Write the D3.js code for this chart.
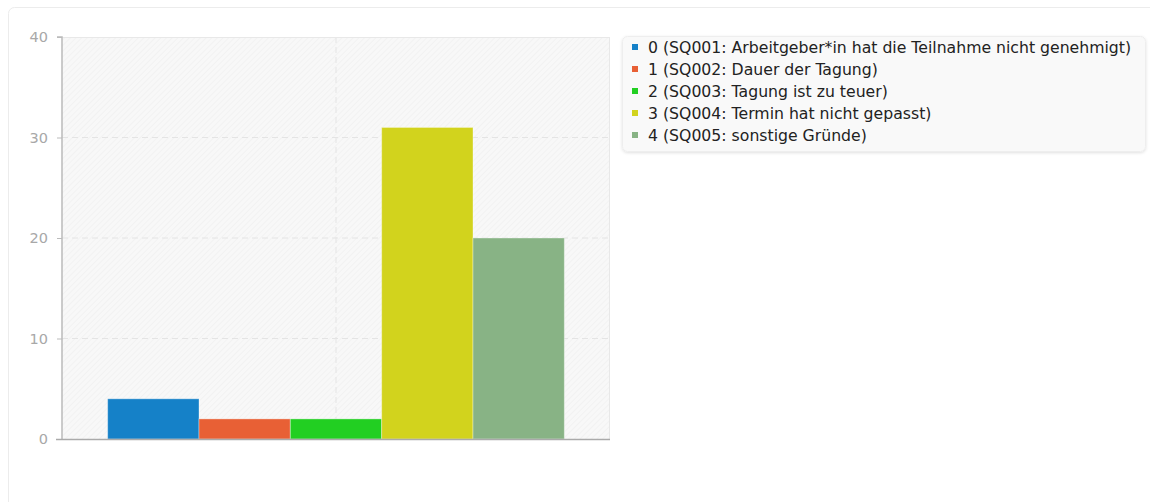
<!DOCTYPE html>
<html><head><meta charset="utf-8">
<script src="https://cdn.jsdelivr.net/npm/d3@7"></script>
<style>
html,body{margin:0;padding:0;background:#fff;}
svg{display:block;font-family:"DejaVu Sans",sans-serif;}
</style></head>
<body>
<svg id="chart" width="1150" height="502"></svg>
<script>
const categories = ["0 (SQ001: Arbeitgeber*in hat die Teilnahme nicht genehmigt)","1 (SQ002: Dauer der Tagung)","2 (SQ003: Tagung ist zu teuer)","3 (SQ004: Termin hat nicht gepasst)","4 (SQ005: sonstige Gründe)"];
const values = [4, 2, 2, 31, 20];
const colors = ["#1581c8", "#e86035", "#22cf22", "#d2d31d", "#88b385"];
const yTicks = [0, 10, 20, 30, 40];

(function(){
const svg = d3.select("#chart");
const defs = svg.append("defs");
const pat = defs.append("pattern").attr("id","hatch").attr("patternUnits","userSpaceOnUse")
  .attr("width",4).attr("height",4).attr("patternTransform","rotate(45)");
pat.append("rect").attr("width",4).attr("height",4).attr("fill","#f8f8f8");
pat.append("line").attr("x1",0).attr("y1",0).attr("x2",0).attr("y2",4).attr("stroke","#efefef").attr("stroke-width",1.2);
const f = defs.append("filter").attr("id","shadow").attr("x","-5%").attr("y","-10%").attr("width","110%").attr("height","130%");
f.append("feDropShadow").attr("dx",0).attr("dy",1).attr("stdDeviation",1.5).attr("flood-color","#000").attr("flood-opacity",0.12);

// card
svg.append("rect").attr("x",8.5).attr("y",7.5).attr("width",1160).attr("height",520).attr("rx",6)
  .attr("fill","#fff").attr("stroke","#ececec");

const pL = 62, pR = 610, pT = 37, pB = 439;
const y = d3.scaleLinear().domain([0,40]).range([pB, pT]);
const xGroup = d3.scaleBand().domain(["g"]).range([pL, pR]).paddingInner(0).paddingOuter(0.1);
const x = d3.scaleBand().domain(d3.range(values.length)).range([xGroup("g"), xGroup("g")+xGroup.bandwidth()]).padding(0);

svg.append("rect").attr("x",pL).attr("y",pT).attr("width",pR-pL).attr("height",pB-pT).attr("fill","url(#hatch)");
// grid
svg.append("g").selectAll("line").data(yTicks.filter(d=>d>0 && d<40)).join("line")
  .attr("x1",pL).attr("x2",pR).attr("y1",d=>y(d)).attr("y2",d=>y(d))
  .attr("stroke","#e4e4e4").attr("stroke-dasharray","6,4");
svg.append("line").attr("x1",(pL+pR)/2).attr("x2",(pL+pR)/2).attr("y1",pT).attr("y2",pB)
  .attr("stroke","#e4e4e4").attr("stroke-dasharray","6,4");
svg.append("line").attr("x1",pL).attr("x2",pR).attr("y1",pT+0.5).attr("y2",pT+0.5).attr("stroke","#e8e8e8");
svg.append("line").attr("x1",pR-0.5).attr("x2",pR-0.5).attr("y1",pT).attr("y2",pB).attr("stroke","#e8e8e8");

// bars
svg.append("g").selectAll("rect").data(values).join("rect")
  .attr("x",(d,i)=>x(i)).attr("width",x.bandwidth())
  .attr("y",d=>y(d)).attr("height",d=>pB-y(d))
  .attr("fill",(d,i)=>colors[i]).attr("stroke","rgba(255,255,255,0.35)").attr("stroke-width",1);

// y axis
const yAxis = d3.axisLeft(y).tickValues(yTicks).tickSize(5).tickPadding(9);
const ga = svg.append("g").attr("transform",`translate(${pL},0)`).call(yAxis);
ga.select(".domain").attr("stroke","#bbb").attr("stroke-width",1.5).attr("d",`M-5,${pT}H0V${pB}`);
ga.selectAll(".tick line").attr("stroke","#bbb");
ga.selectAll(".tick text").attr("fill","#a8a8a8").style("font-size","14.5px").style("font-family","'DejaVu Sans',sans-serif");
svg.append("line").attr("x1",56).attr("x2",pR).attr("y1",pB+0.5).attr("y2",pB+0.5).attr("stroke","#aaa").attr("stroke-width",1.5);

// legend
const lg = svg.append("g");
lg.append("rect").attr("x",622.5).attr("y",36.5).attr("width",523).attr("height",115).attr("rx",5)
  .attr("fill","#f9f9f9").attr("stroke","#eee").attr("filter","url(#shadow)");
const items = lg.selectAll("g.item").data(categories).join("g").attr("class","item")
  .attr("transform",(d,i)=>`translate(632,${47+i*22})`);
items.append("rect").attr("x",0).attr("y",-3).attr("width",6).attr("height",6).attr("fill",(d,i)=>colors[i]);
items.append("text").attr("x",16).attr("y",0).attr("dy","0.35em").attr("fill","#222")
  .style("font-size","15.7px").text(d=>d);
})();
</script>
</body></html>
